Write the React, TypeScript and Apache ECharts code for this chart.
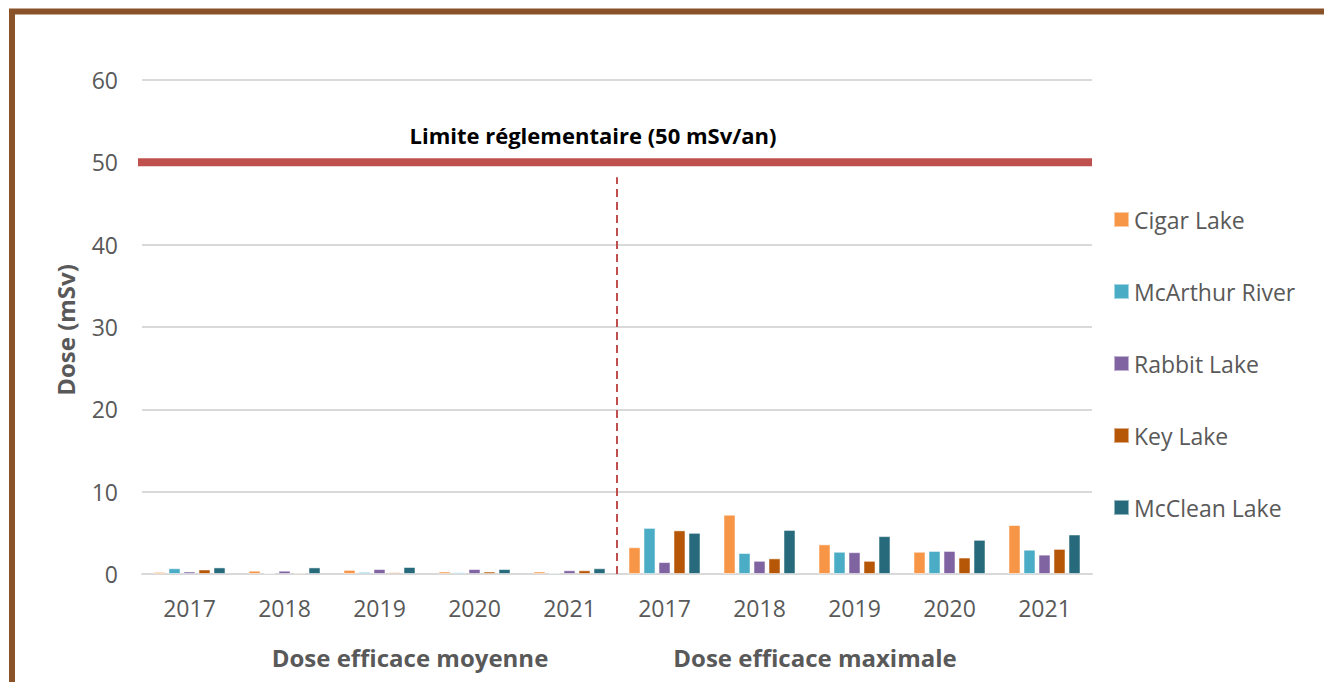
import React, { useEffect, useRef } from "react";
import * as echarts from "echarts";

const years = ["2017", "2018", "2019", "2020", "2021"];
const groups = ["Dose efficace moyenne", "Dose efficace maximale"];
const sites = ["Cigar Lake", "McArthur River", "Rabbit Lake", "Key Lake", "McClean Lake"];
const colors = ["#F79646", "#4BACC6", "#8064A2", "#B65708", "#276A7C"];

// mean 2017-2021, then max 2017-2021
const cigarLake = [0.25, 0.4, 0.5, 0.3, 0.3, 3.25, 7.2, 3.6, 2.7, 5.95];
const mcArthurRiver = [0.7, 0.1, 0.25, 0.2, 0.15, 5.6, 2.55, 2.7, 2.8, 2.95];
const rabbitLake = [0.3, 0.4, 0.6, 0.6, 0.45, 1.45, 1.6, 2.65, 2.8, 2.35];
const keyLake = [0.55, 0.15, 0.2, 0.3, 0.45, 5.3, 1.9, 1.6, 2.0, 3.05];
const mcCleanLake = [0.8, 0.8, 0.85, 0.6, 0.7, 5.0, 5.35, 4.6, 4.15, 4.8];
const siteValues = [cigarLake, mcArthurRiver, rabbitLake, keyLake, mcCleanLake];

const limitValue = 50;
const limitLabel = "Limite réglementaire (50 mSv/an)";
const dividerTop = 48.2;
const yTitle = "Dose (mSv)";

const categories = groups.flatMap((g, gi) => years.map((y) => `${gi}|${y}`));

export default function App() {
  const ref = useRef<HTMLDivElement>(null);
  useEffect(() => {
    const chart = echarts.init(ref.current!, null, { renderer: "svg" });
    const font = "'Open Sans', sans-serif";
    const barSeries = sites.map((name, i) => ({
      name,
      type: "bar",
      xAxisIndex: 0,
      yAxisIndex: 0,
      data: siteValues[i],
      barWidth: 12,
      barGap: "25%",
      itemStyle: { color: colors[i], borderColor: "rgba(255,255,255,0.5)", borderWidth: 1 },
    }));
    chart.setOption({
      animation: false,
      color: colors,
      textStyle: { fontFamily: font },
      grid: { left: 142, right: 232, top: 80, bottom: 108 },
      legend: {
        data: sites,
        orient: "vertical",
        left: 1108,
        top: 203,
        itemWidth: 15,
        itemHeight: 15,
        itemGap: 49,
        icon: "rect",
        textStyle: { fontSize: 23, color: "#595959", fontFamily: font },
      },
      xAxis: [
        {
          type: "category",
          data: categories,
          axisLine: { show: true, lineStyle: { color: "#d9d9d9", width: 2 } },
          axisTick: { show: false },
          axisLabel: {
            color: "#595959",
            fontSize: 23,
            margin: 22,
            formatter: (v: string) => v.split("|")[1],
          },
        },
        { type: "value", min: 0, max: 10, show: false, position: "top" },
      ],
      yAxis: {
        type: "value",
        min: 0,
        max: 60,
        interval: 10,
        axisLine: { show: false },
        axisTick: { show: false },
        axisLabel: { color: "#595959", fontSize: 23, margin: 24 },
        splitLine: { lineStyle: { color: "#d9d9d9", width: 2 } },
      },
      series: [
        ...barSeries,
        {
          name: "limit",
          type: "line",
          xAxisIndex: 1,
          yAxisIndex: 0,
          data: [[-0.25, limitValue], [10, limitValue]],
          clip: false,
          symbol: "none",
          lineStyle: { color: "#C0504D", width: 8 },
          z: 5,
        },
        {
          name: "divider",
          type: "line",
          xAxisIndex: 1,
          yAxisIndex: 0,
          data: [[5, 0], [5, dividerTop]],
          symbol: "none",
          lineStyle: { color: "#C0504D", width: 2, type: [8, 5] },
          z: 5,
        },
      ],
      graphic: [
        {
          type: "rect",
          shape: { x: 12, y: 11.5, width: 1400, height: 800 },
          style: { fill: "none", stroke: "#8a5229", lineWidth: 6 },
          silent: true,
        },
        {
          type: "text",
          x: 593,
          y: 135,
          style: {
            text: limitLabel,
            font: `bold 22px ${font}`,
            fill: "#000000",
            align: "center",
            verticalAlign: "middle",
          },
        },
        {
          type: "text",
          x: 410,
          y: 657,
          style: {
            text: groups[0],
            font: `bold 24px ${font}`,
            fill: "#595959",
            align: "center",
            verticalAlign: "middle",
          },
        },
        {
          type: "text",
          x: 815,
          y: 657,
          style: {
            text: groups[1],
            font: `bold 24px ${font}`,
            fill: "#595959",
            align: "center",
            verticalAlign: "middle",
          },
        },
        {
          type: "text",
          x: 65,
          y: 330,
          rotation: Math.PI / 2,
          style: {
            text: yTitle,
            font: `bold 24px ${font}`,
            fill: "#595959",
            align: "center",
            verticalAlign: "middle",
          },
        },
      ],
    });
    return () => chart.dispose();
  }, []);
  return (
    <div
      ref={ref}
      style={{ position: "fixed", left: 0, top: 0, width: 1324, height: 682, background: "#ffffff" }}
    />
  );
}
